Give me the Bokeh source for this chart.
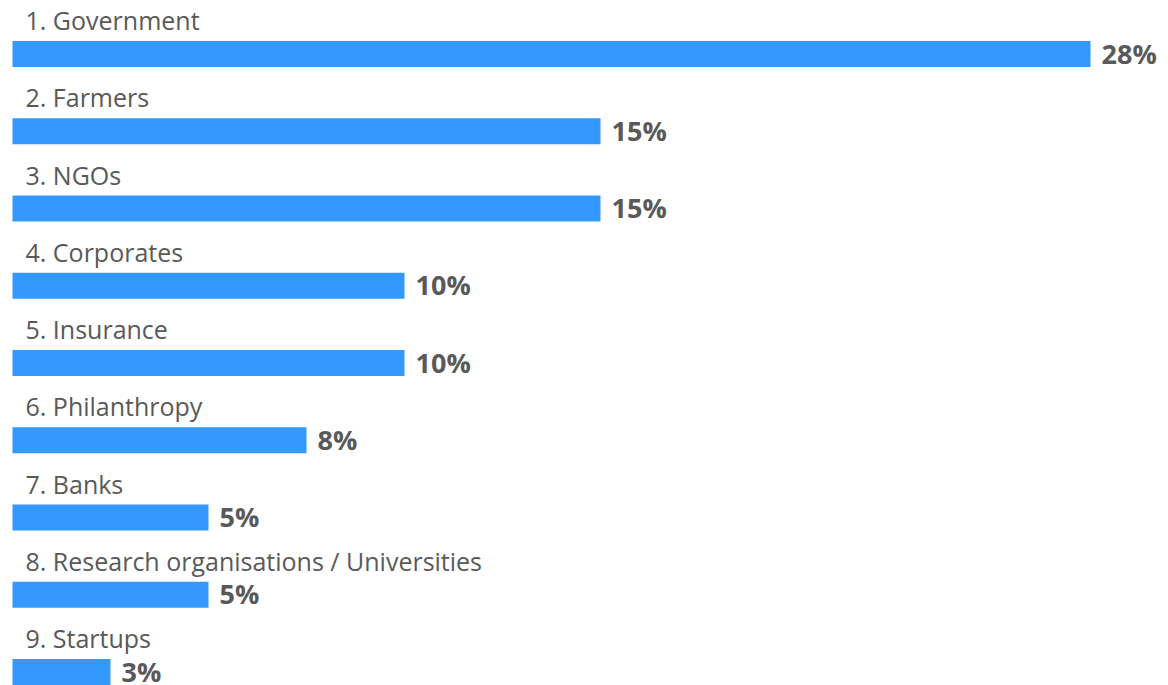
from bokeh.plotting import figure
from bokeh.models import ColumnDataSource, Range1d
from bokeh.core.properties import value
from bokeh.embed import file_html
from bokeh.resources import INLINE

categories = ["1. Government", "2. Farmers", "3. NGOs", "4. Corporates", "5. Insurance",
              "6. Philanthropy", "7. Banks", "8. Research organisations / Universities", "9. Startups"]
values = [27.5, 15, 15, 10, 10, 7.5, 5, 5, 2.5]
value_labels = ["28%", "15%", "15%", "10%", "10%", "8%", "5%", "5%", "3%"]

rows = list(range(len(categories)))
src = ColumnDataSource(dict(y=rows, v=values, cat=categories, lab=value_labels,
                            zero=[0] * len(rows)))

W, H = 1168, 685
px_per_unit = 39.2
x0 = 12
row_h = 77.25
y0 = 53.5

p = figure(width=W, height=H, output_backend="svg", toolbar_location=None,
           x_range=Range1d(-x0 / px_per_unit, (W - x0) / px_per_unit),
           y_range=Range1d((H - y0) / row_h, -y0 / row_h),
           min_border=0, outline_line_color=None)
p.axis.visible = False
p.grid.visible = False
p.background_fill_color = "white"
p.border_fill_color = "white"

p.hbar(y="y", left=0, right="v", height=26 / row_h, source=src,
       fill_color="#3399FF", line_color=None)

p.text(x="zero", y="y", text="cat", source=src, x_offset=13, y_offset=-34,
       text_baseline="alphabetic", text_align="left",
       text_font=value("Open Sans"), text_font_size="25px", text_color="#595959")

p.text(x="v", y="y", text="lab", source=src, x_offset=11, y_offset=-1,
       text_baseline="alphabetic", text_align="left",
       text_font=value("Open Sans"), text_font_size="27px", text_font_style="bold",
       text_color="#595959")

open("out.html", "w").write(file_html(p, INLINE))
